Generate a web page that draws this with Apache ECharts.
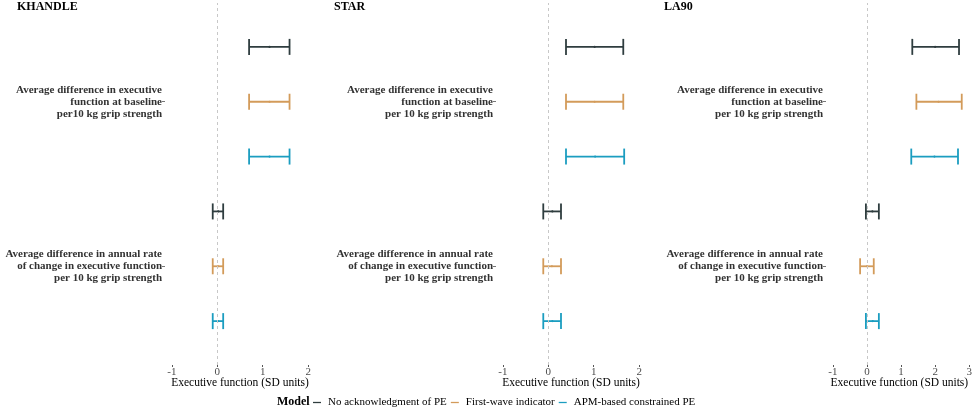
<!DOCTYPE html>
<html>
<head>
<meta charset="utf-8">
<script src="https://cdn.jsdelivr.net/npm/echarts@6/dist/echarts.min.js"></script>
<style>
  html, body { margin: 0; padding: 0; background: #fff; }
  #chart-container { width: 975px; height: 410px; }
</style>
</head>
<body>
<div id="chart-container"></div>
<script>
// panels (cohorts) and model names
var panels = ['KHANDLE', 'STAR', 'LA90'];
var models = ['No acknowledgment of PE', 'First-wave indicator', 'APM-based constrained PE'];

// outcome labels per panel, index 0 = bottom row, 1 = top row
var outcomeLabels = [
  ['Average difference in annual rate\nof change in executive function\nper 10 kg grip strength',
   'Average difference in executive\nfunction at baseline\nper10 kg grip strength'],
  ['Average difference in annual rate\nof change in executive function\nper 10 kg grip strength',
   'Average difference in executive\nfunction at baseline\nper 10 kg grip strength'],
  ['Average difference in annual rate\nof change in executive function\nper 10 kg grip strength',
   'Average difference in executive\nfunction at baseline\nper 10 kg grip strength']
];

// x tick labels per panel
var xTicks = [
  [-1, 0, 1, 2],
  [-1, 0, 1, 2],
  [-1, 0, 1, 2, 3]
];

// estimates [lower, mean, upper] : rate of change / baseline
var khandleRate = [[-0.10, 0.02, 0.13], [-0.10, 0.02, 0.13], [-0.10, 0.02, 0.13]];
var khandleBase = [[0.70, 1.15, 1.59], [0.70, 1.15, 1.59], [0.70, 1.15, 1.59]];
var starRate = [[-0.11, 0.09, 0.28], [-0.11, 0.08, 0.28], [-0.11, 0.09, 0.28]];
var starBase = [[0.39, 1.02, 1.65], [0.39, 1.02, 1.65], [0.39, 1.03, 1.67]];
var la90Rate = [[-0.03, 0.16, 0.35], [-0.20, 0.00, 0.20], [-0.03, 0.17, 0.35]];
var la90Base = [[1.33, 2.00, 2.70], [1.45, 2.10, 2.78], [1.30, 1.98, 2.67]];

var rateData = [khandleRate, starRate, la90Rate];
var baseData = [khandleBase, starBase, la90Base];

var colors = ['#2f3d3f', '#d39b5a', '#1b9dc0'];
var font = 'Liberation Serif';

var myChart = echarts.init(document.getElementById('chart-container'));

var gridPos = [
  { left: 165, width: 150, xmin: -1.15, xmax: 2.15 },
  { left: 496, width: 150, xmin: -1.15, xmax: 2.15 },
  { left: 826, width: 149, xmin: -1.2, xmax: 3.1 }
];

// dodge: first model on top
var dodge = [1 / 3, 0, -1 / 3];

function renderErr(params, api) {
  var y = api.value(0);
  var lo = api.coord([api.value(1), y]);
  var mid = api.coord([api.value(2), y]);
  var hi = api.coord([api.value(3), y]);
  var c = api.visual('color');
  var h = 8;
  var st = { stroke: c, lineWidth: 1.8 };
  return {
    type: 'group',
    children: [
      { type: 'line', shape: { x1: lo[0], y1: lo[1], x2: hi[0], y2: hi[1] }, style: st },
      { type: 'line', shape: { x1: lo[0], y1: lo[1] - h, x2: lo[0], y2: lo[1] + h }, style: st },
      { type: 'line', shape: { x1: hi[0], y1: hi[1] - h, x2: hi[0], y2: hi[1] + h }, style: st },
      { type: 'circle', shape: { cx: mid[0], cy: mid[1], r: 1.1 }, style: { fill: c } }
    ]
  };
}

var grids = [], xAxes = [], yAxes = [], titles = [], series = [];

panels.forEach(function(p, i) {
  var g = gridPos[i];
  grids.push({ left: g.left, width: g.width, top: 3, bottom: 45 });
  titles.push({
    text: p,
    left: [17, 334, 664][i],
    top: 1,
    padding: 0,
    textStyle: { fontFamily: font, fontWeight: 'bold', fontSize: 12, color: '#000' }
  });
  xAxes.push({
    type: 'value', gridIndex: i, min: g.xmin, max: g.xmax,
    name: 'Executive function (SD units)',
    nameLocation: 'middle', nameGap: 12, nameMoveOverlap: false,
    nameTextStyle: { fontFamily: font, fontSize: 11.5, color: '#000' },
    axisLine: { show: false },
    axisTick: { show: true, length: 2, lineStyle: { color: '#555' }, customValues: xTicks[i] },
    axisLabel: { customValues: xTicks[i], fontFamily: font, fontSize: 11, color: '#4d4d4d', margin: 2 },
    splitLine: { show: false }
  });
  yAxes.push({
    type: 'value', gridIndex: i, min: 0.4, max: 2.6,
    axisLine: { show: false, onZero: false },
    axisTick: { show: true, length: 3, lineStyle: { color: '#777' }, customValues: [1, 2] },
    axisLabel: {
      customValues: [1, 2],
      formatter: (function(labels) {
        return function(v) { return labels[Math.round(v) - 1]; };
      })(outcomeLabels[i]),
      fontFamily: font, fontWeight: 'bold', fontSize: 11, color: '#333',
      lineHeight: 12, align: 'right', margin: 3
    },
    splitLine: { show: false }
  });
  models.forEach(function(m, k) {
    var data = [
      [1 + dodge[k]].concat(rateData[i][k]),
      [2 + dodge[k]].concat(baseData[i][k])
    ];
    var s = {
      name: m,
      type: 'custom',
      xAxisIndex: i, yAxisIndex: i,
      itemStyle: { color: colors[k] },
      renderItem: renderErr,
      encode: { x: [1, 2, 3], y: 0 },
      data: data,
      z: 3
    };
    if (k === 0) {
      s.markLine = {
        silent: true, symbol: 'none', label: { show: false },
        lineStyle: { color: '#c8c8c8', type: [3, 3], width: 1 },
        data: [{ xAxis: 0 }]
      };
    }
    series.push(s);
  });
});

var option = {
  animation: false,
  title: titles,
  grid: grids,
  xAxis: xAxes,
  yAxis: yAxes,
  legend: {
    data: models,
    left: 313, top: 397,
    padding: 0,
    itemWidth: 8, itemHeight: 12, itemGap: 4,
    icon: 'path://M0,5.2h10v1.6h-10z',
    textStyle: { fontFamily: font, fontSize: 11, color: '#000', padding: [0, 0, 0, 2] }
  },
  graphic: [{
    type: 'text', left: 277, top: 396,
    style: { text: 'Model', font: 'bold 12px "Liberation Serif"', fill: '#000' }
  }],
  series: series
};

myChart.setOption(option);
</script>
</body>
</html>
